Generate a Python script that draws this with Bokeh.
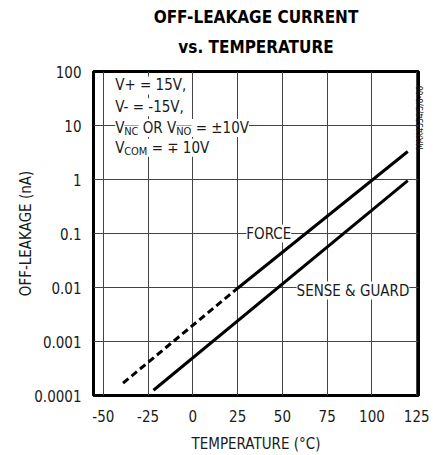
from math import pi
from bokeh.plotting import figure
from bokeh.models import Label, Title, FixedTicker, Range1d, LogAxis
from bokeh.core.properties import value
from bokeh.embed import file_html
from bokeh.resources import INLINE

# ---- data ----
temp_ticks = [-50, -25, 0, 25, 50, 75, 100, 125]
temp_labels = ["-50", "-25", "0", "25", "50", "75", "100", "125"]
leak_ticks = [0.0001, 0.001, 0.01, 0.1, 1, 10, 100]
leak_labels = ["0.0001", "0.001", "0.01", "0.1", "1", "10", "100"]

force_dash_t = [-39, 25]
force_dash_i = [1.7e-4, 0.0097]
force_t = [25, 120]
force_i = [0.0097, 3.3]
sense_t = [-22, 120]
sense_i = [1.25e-4, 0.95]

FONT = "'Liberation Sans Narrow', 'Noto Sans Condensed', 'DejaVu Sans Condensed', sans-serif"
TXT = "#1a1a1a"
NB = "\u00a0"

p = figure(width=433, height=455, x_range=Range1d(-55.5, 126), y_range=Range1d(1e-4, 100),
           y_axis_type="log", output_backend="svg", toolbar_location=None, title=None,
           min_border_left=93, min_border_right=13, min_border_top=71, min_border_bottom=57)

p.background_fill_color = "white"
p.border_fill_color = "white"
p.outline_line_color = "black"
p.outline_line_width = 3

# titles
t2 = Title(text="vs. TEMPERATURE", align="center", vertical_align="top", text_font=FONT,
           text_font_size="17px", text_font_style="bold", text_color="black", standoff=23.5)
t1 = Title(text="OFF-LEAKAGE CURRENT", align="center", vertical_align="top", text_font=FONT,
           text_font_size="17px", text_font_style="bold", text_color="black", standoff=-7)
p.add_layout(t2, "above")
p.add_layout(t1, "above")

# axes
for ax in (p.xaxis, p.yaxis):
    ax.axis_line_color = None
    ax.major_tick_line_color = None
    ax.minor_tick_line_color = None
    ax.major_tick_out = 0
    ax.major_tick_in = 0
    ax.minor_tick_out = 0
    ax.minor_tick_in = 0
    ax.major_label_text_font = FONT
    ax.major_label_text_font_size = "15px"
    ax.major_label_text_color = TXT
    ax.axis_label_text_font = FONT
    ax.axis_label_text_font_size = "15px"
    ax.axis_label_text_font_style = "normal"
    ax.axis_label_text_color = TXT

p.xaxis.ticker = FixedTicker(ticks=temp_ticks)
p.xaxis.major_label_overrides = dict(zip(temp_ticks, temp_labels))
p.xaxis.major_label_standoff = 14
p.xaxis.axis_label = "TEMPERATURE (°C)"
p.xaxis.axis_label_standoff = 10

p.yaxis.ticker = FixedTicker(ticks=leak_ticks)
p.yaxis.major_label_overrides = dict(zip(leak_ticks, leak_labels))
p.yaxis.major_label_standoff = 12
p.yaxis.axis_label = "OFF-LEAKAGE (nA)"
p.yaxis.axis_label_standoff = -4

# figure code printed along the right edge
code_axis = LogAxis(ticker=FixedTicker(ticks=[3.55]), major_label_overrides={3.55: "MAX4554/5/6-06"},
                    major_label_orientation=pi / 2, major_label_standoff=2,
                    major_tick_out=0, major_tick_in=0, minor_tick_out=0, minor_tick_in=0,
                    major_label_text_font=FONT, major_label_text_font_size="8.5px",
                    major_label_text_color=TXT, axis_line_color=None,
                    major_tick_line_color=None, minor_tick_line_color=None)
p.add_layout(code_axis, "right")

p.xgrid.ticker = FixedTicker(ticks=temp_ticks)
p.ygrid.ticker = FixedTicker(ticks=leak_ticks)
for g in (p.xgrid, p.ygrid):
    g.grid_line_color = "#444444"
    g.grid_line_width = 1
p.ygrid.minor_grid_line_color = None

# curves
p.line(force_dash_t, force_dash_i, line_width=3, line_color="black", line_dash="7 4")
p.line(force_t, force_i, line_width=3, line_color="black")
p.line(sense_t, sense_i, line_width=3, line_color="black")

def lab(x, y, text, size="15px", xo=0, yo=0, align="left", bg="white", baseline="middle"):
    p.add_layout(Label(x=x, y=y, text=text, x_offset=xo, y_offset=yo, text_font=FONT,
                       text_font_size=size, text_color=TXT, text_align=align,
                       text_baseline=baseline, background_fill_color=bg))

# condition box text
x0 = -43.4
lab(x0, 10**1.743, "V+ = 15V,")
lab(x0, 10**1.339, "V- = -15V,")
y3 = 10**0.954
lab(x0, y3, "V")
lab(x0, y3, "NC", size="11px", xo=9, yo=-4)
lab(x0, y3, NB + "OR V", xo=23.3)
lab(x0, y3, "NO", size="11px", xo=61, yo=-4)
lab(x0, y3, NB + "=" + NB + "±10V", xo=76.2)
y4 = 10**0.587
lab(x0, y4, "V")
lab(x0, y4, "COM", size="11px", xo=9, yo=-4)
lab(x0, y4, NB + "=" + NB + "∓" + NB + "10V", xo=32.2)

# curve labels
lab(42.4, 0.1, "FORCE", align="center")
lab(57.9, 0.01, "SENSE & GUARD", yo=-3)

open("out.html", "w").write(file_html(p, INLINE))
